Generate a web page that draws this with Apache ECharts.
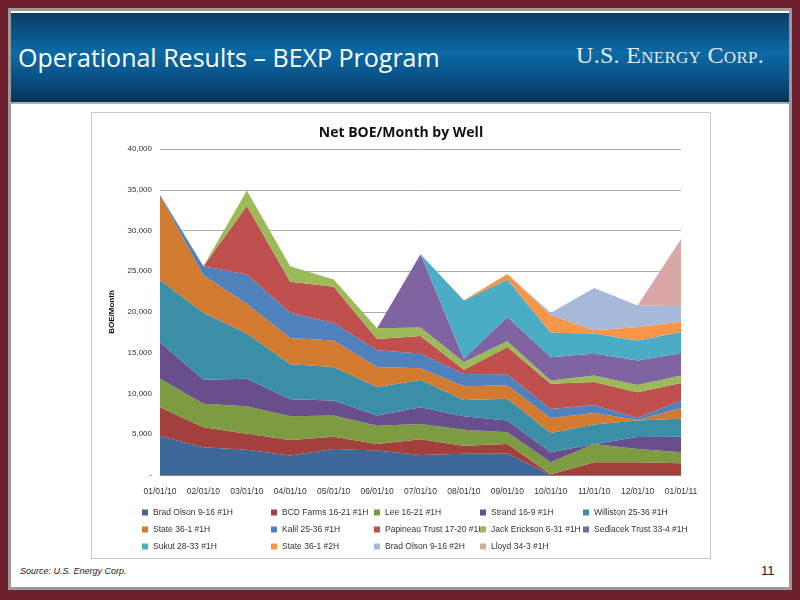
<!DOCTYPE html>
<html>
<head>
<meta charset="utf-8">
<script src="https://cdn.jsdelivr.net/npm/echarts@6/dist/echarts.min.js"></script>
<style>
  body { margin: 0; width: 800px; height: 600px; overflow: hidden; font-family: Lato, sans-serif; }
  #frame { position: absolute; left: 0; top: 0; width: 800px; height: 600px; background: #6e1f2e; }
  #inner { position: absolute; left: 8px; top: 8px; width: 784px; height: 582px; background: #9a9a9a; }
  #slide { position: absolute; left: 11px; top: 11px; width: 778px; height: 576px; background: #fff; }
  #header { position: absolute; left: 11px; top: 13px; width: 778px; height: 89px;
    background: linear-gradient(#0b3d66, #0a6aa6 45%, #094a7c 80%, #062f52); border-bottom: 2px solid #aab; }
  #title { position: absolute; left: 18px; top: 40px; color: #fff; font-family: "Open Sans", sans-serif; font-size: 25px; }
  #logo { position: absolute; left: 576px; top: 42px; color: #e8e8ee; font-family: "Liberation Serif", serif; font-size: 24px; font-variant: small-caps; letter-spacing: 0.3px; }
  #chart { position: absolute; left: 91px; top: 112px; width: 618px; height: 445px; border: 1px solid #c8c8c8; background: #fff; }
  #source { position: absolute; left: 20px; top: 566px; font-family: "Liberation Sans", sans-serif; font-style: italic; font-size: 9px; color: #222; }
  #page { position: absolute; left: 761px; top: 563px; font-family: "Liberation Sans", sans-serif; font-size: 13px; color: #222; }
</style>
</head>
<body>
<div id="frame"></div><div id="inner"></div><div id="slide"></div>
<div id="header"></div>
<div id="title">Operational Results – BEXP Program</div>
<div id="logo">U.S. Energy Corp.</div>
<div id="chart"></div>
<div id="source">Source: U.S. Energy Corp.</div>
<div id="page">11</div>
<script>
const months = ['01/01/10', '02/01/10', '03/01/10', '04/01/10', '05/01/10', '06/01/10', '07/01/10',
  '08/01/10', '09/01/10', '10/01/10', '11/01/10', '12/01/10', '01/01/11'];

const wellNames = ['Brad Olson 9-16 #1H', 'BCD Farms 16-21 #1H', 'Lee 16-21 #1H', 'Strand 16-9 #1H',
  'Williston 25-36 #1H', 'State 36-1 #1H', 'Kalil 25-36 #1H', 'Papineau Trust 17-20 #1H',
  'Jack Erickson 6-31 #1H', 'Sedlacek Trust 33-4 #1H', 'Sukut 28-33 #1H', 'State 36-1 #2H',
  'Brad Olson 9-16 #2H', 'Lloyd 34-3 #1H'];

const bradOlson1  = [4800, 3400, 3100, 2400, 3200, 3000, 2450, 2600, 2650, 0, 0, 0, 0];
const bcdFarms    = [3500, 2450, 1950, 1900, 1500, 800, 1950, 1000, 1150, 100, 1550, 1550, 1450];
const lee         = [3500, 2900, 3400, 2900, 2600, 2250, 1850, 1950, 1450, 1450, 2250, 1650, 1350];
const strand      = [4500, 2950, 3350, 2100, 1850, 1250, 2050, 1650, 1450, 1250, 0, 1450, 1900];
const williston   = [7600, 8200, 5550, 4300, 4100, 3500, 3350, 2000, 2650, 2350, 2400, 2050, 2200];
const state1      = [10400, 4600, 3650, 3200, 3250, 2450, 1450, 1700, 1650, 1850, 1400, 50, 1300];
const kalil       = [100, 1100, 3600, 3100, 2150, 2050, 1800, 1500, 1350, 1100, 1000, 250, 950];
const papineau    = [0, 0, 8400, 3800, 4450, 1400, 2150, 500, 3350, 3100, 2800, 3150, 2150];
const jackErickson= [0, 0, 1900, 1900, 900, 1300, 1050, 950, 700, 400, 800, 900, 900];
const sedlacek    = [0, 0, 0, 0, 0, 0, 9000, 400, 3000, 2850, 2700, 3000, 2750];
const sukut       = [0, 0, 0, 0, 0, 0, 0, 7150, 4600, 3000, 2450, 2450, 2600];
const state2      = [0, 0, 0, 0, 0, 0, 0, 50, 650, 2150, 400, 1650, 1250];
const bradOlson2  = [0, 0, 0, 0, 0, 0, 0, 0, 0, 300, 5200, 2650, 1950];
const lloyd       = [0, 0, 0, 0, 0, 0, 0, 0, 0, 0, 0, 0, 8200];

const wellValues = [bradOlson1, bcdFarms, lee, strand, williston, state1, kalil, papineau,
  jackErickson, sedlacek, sukut, state2, bradOlson2, lloyd];

const colors = ['#3e679a', '#a33f3c', '#7d9c42', '#684f8b', '#3a8fa6', '#d37a31',
  '#4f81bd', '#c0504d', '#9bbb59', '#8064a2', '#4bacc6', '#f79646', '#a7b9d9', '#d9a8a6'];

const legendCols = [50, 179, 282, 388, 491];
const legendRows = [395, 412, 429];

const chart = echarts.init(document.getElementById('chart'));

const legends = wellNames.map((name, i) => ({
  data: [name],
  left: legendCols[i % 5],
  top: legendRows[Math.floor(i / 5)],
  itemWidth: 6, itemHeight: 6, icon: 'rect', padding: 0,
  textStyle: { fontSize: 8.5, color: '#333', fontFamily: 'Liberation Sans' }
}));

chart.setOption({
  color: colors,
  animation: false,
  title: {
    text: 'Net BOE/Month by Well', left: 'center', top: 8,
    textStyle: { fontSize: 14, fontWeight: 'bold', color: '#111', fontFamily: 'Open Sans' }
  },
  legend: legends,
  grid: { left: 68, right: 29, top: 36, bottom: 83 },
  xAxis: {
    type: 'category', data: months, boundaryGap: false,
    axisLine: { lineStyle: { color: '#888' } }, axisTick: { show: false },
    axisLabel: { fontSize: 8.5, color: '#333', margin: 12, fontFamily: 'Liberation Sans' }
  },
  yAxis: {
    type: 'value', min: 0, max: 40000, interval: 5000,
    name: 'BOE/Month', nameLocation: 'middle', nameGap: 44, nameRotate: 90,
    nameTextStyle: { fontSize: 8, fontWeight: 'bold', color: '#111' },
    axisLine: { show: false }, axisTick: { show: false },
    splitLine: { lineStyle: { color: '#aaa' } },
    axisLabel: { fontSize: 8, color: '#333', fontFamily: 'Liberation Sans',
      formatter: v => v === 0 ? '-' : v.toLocaleString('en-US') }
  },
  series: wellNames.map((name, i) => ({
    name, type: 'line', stack: 'total', data: wellValues[i],
    symbol: 'none', lineStyle: { width: 0 }, areaStyle: { opacity: 1 }
  }))
});
</script>
</body>
</html>
